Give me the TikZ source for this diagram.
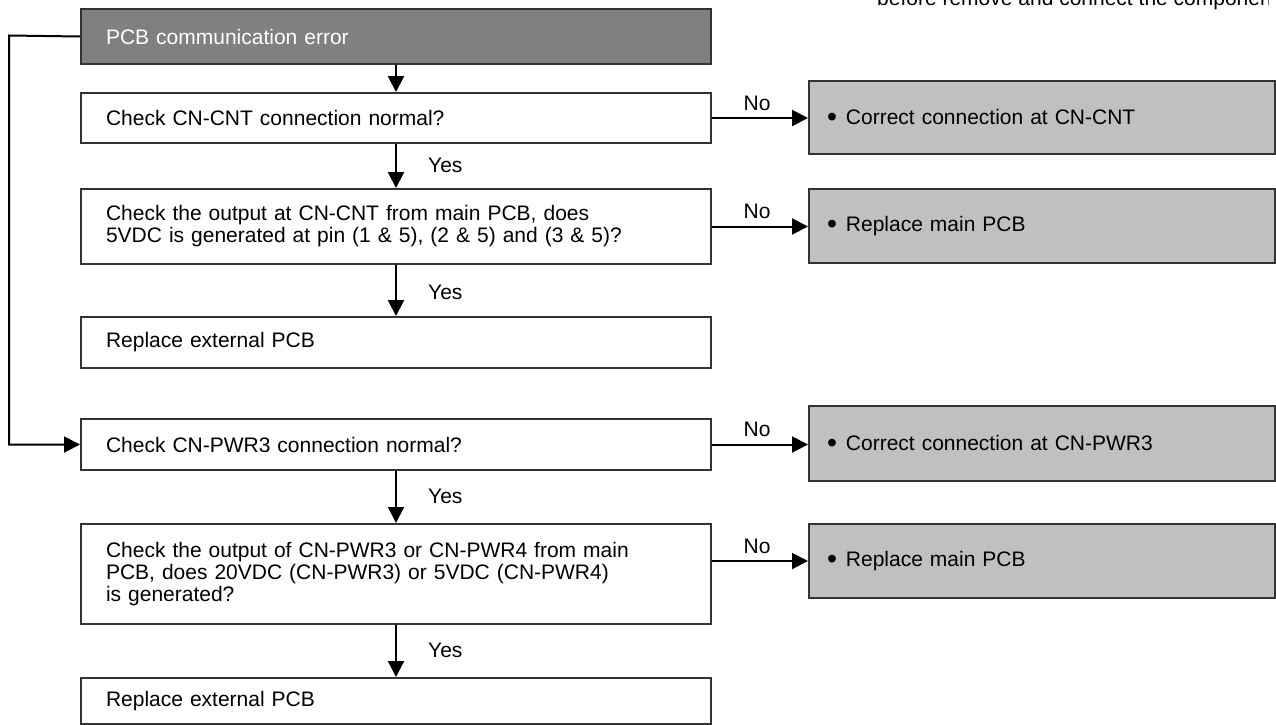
\documentclass[tikz,border=0pt]{standalone}
\usepackage{fontspec}
\setmainfont{Liberation Sans}
\usetikzlibrary{arrows.meta}
\definecolor{boxline}{HTML}{333333}
\definecolor{darkfill}{HTML}{808080}
\definecolor{lightfill}{HTML}{C0C0C0}
\newcommand{\bigbul}{\raisebox{-2.2pt}{\scalebox{1.35}{\textbullet}}\hspace{9pt}}
\tikzset{
  every node/.style={font=\fontsize{21}{22}\selectfont},
  lbox/.style={draw=boxline, line width=2pt, fill=white, anchor=north west,
    minimum width=630pt, text width=580pt, inner xsep=25pt, inner ysep=0pt, align=left},
  topbox/.style={lbox, fill=darkfill, text=white},
  rbox/.style={draw=boxline, line width=2pt, fill=lightfill, anchor=north west,
    minimum width=466pt, text width=430pt, inner xsep=18pt, inner ysep=0pt, align=left},
  arr/.style={line width=2pt, -{Triangle[length=16pt,width=16pt]}},
  lab/.style={inner sep=0pt}
}
\begin{document}
\begin{tikzpicture}[x=1pt,y=-1pt]
\useasboundingbox (0,0) rectangle (1276,724);
\begin{scope}
\clip (0,0) rectangle (1268,724);
\node[lab, anchor=base west] (note) at (877,5) {before remove and connect the components};
\end{scope}
% left column
\node[topbox, minimum height=55pt] (b1) at (80,8) {PCB communication error};
\node[lbox, minimum height=50pt] (b2) at (80,92) {Check CN-CNT connection normal?};
\node[lbox, minimum height=75pt] (b3) at (80,188) {Check the output at CN-CNT from main PCB, does\\5VDC is generated at pin (1 \& 5), (2 \& 5) and (3 \& 5)?};
\node[lbox, minimum height=51pt] (b4) at (80,316) {Replace external PCB};
\node[lbox, minimum height=51pt] (b5) at (80,418) {Check CN-PWR3 connection normal?};
\node[lbox, minimum height=100pt] (b6) at (80,523) {Check the output of CN-PWR3 or CN-PWR4 from main\\PCB, does 20VDC (CN-PWR3) or 5VDC (CN-PWR4)\\is generated?};
\node[lbox, minimum height=46pt] (b7) at (80,677) {Replace external PCB};
% right column
\node[rbox, minimum height=73pt] (r1) at (808,80) {\bigbul Correct connection at CN-CNT};
\node[rbox, minimum height=74pt] (r2) at (808,188) {\bigbul Replace main PCB};
\node[rbox, minimum height=75pt] (r3) at (808,405) {\bigbul Correct connection at CN-PWR3};
\node[rbox, minimum height=74pt] (r4) at (808,523) {\bigbul Replace main PCB};
% vertical connectors
\draw[arr] (b1.south) -- (b2.north);
\draw[arr] (b2.south) -- (b3.north);
\draw[arr] (b3.south) -- (b4.north);
\draw[arr] (b5.south) -- (b6.north);
\draw[arr] (b6.south) -- (b7.north);
% horizontal connectors
\draw[arr] (b2.east) -- (b2.east -| r1.west);
\draw[arr] (b3.east) -- (b3.east -| r2.west);
\draw[arr] (b5.east) -- (b5.east -| r3.west);
\draw[arr] (b6.east |- r4.west) -- (r4.west);
% feedback
\coordinate (fb) at (9,35.5);
\draw[arr] (b1.west) -- (fb) |- (b5.west);
% labels
\node[lab, anchor=west] (y1) at (428,165) {Yes};
\node[lab, anchor=west] (y2) at (428,292) {Yes};
\node[lab, anchor=west] (y3) at (428,496) {Yes};
\node[lab, anchor=west] (y4) at (428,650) {Yes};
\node[lab] (n1) at (757,103) {No};
\node[lab] (n2) at (757,211) {No};
\node[lab] (n3) at (757,429) {No};
\node[lab] (n4) at (757,546) {No};
\end{tikzpicture}
\end{document}
